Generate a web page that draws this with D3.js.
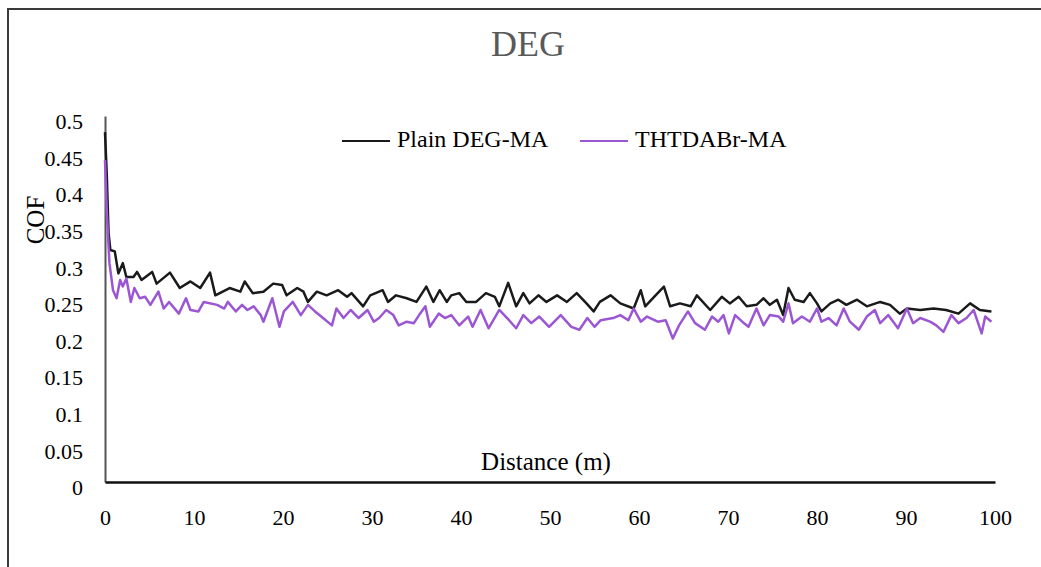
<!DOCTYPE html>
<html>
<head>
<meta charset="utf-8">
<script src="https://cdn.jsdelivr.net/npm/d3@7"></script>
<style>
  body { margin: 0; background: #fff; }
  svg text { font-family: "Liberation Serif", "Times New Roman", serif; fill: #000; }
</style>
</head>
<body>
<svg id="chart" width="1041" height="567"></svg>
<script>
// [distance (m), COF]
const plainDeg = [
  [0, 0.478], [0.2, 0.42], [0.4, 0.34], [0.6, 0.317], [1.1, 0.315], [1.5, 0.285], [2.0, 0.299],
  [2.4, 0.280], [3.2, 0.280], [3.6, 0.287], [4.1, 0.276], [5.3, 0.287], [5.8, 0.271], [7.3, 0.286],
  [8.4, 0.265], [9.6, 0.274], [10.7, 0.265], [11.8, 0.286], [12.4, 0.255], [14.0, 0.265], [15.2, 0.260],
  [15.7, 0.274], [16.6, 0.258], [17.8, 0.260], [18.9, 0.271], [19.9, 0.269], [20.4, 0.255], [21.6, 0.265],
  [22.3, 0.260], [22.8, 0.246], [23.8, 0.260], [24.9, 0.255], [26.2, 0.262], [27.2, 0.253], [27.7, 0.258],
  [29.0, 0.240], [29.8, 0.255], [31.2, 0.262], [31.8, 0.246], [32.7, 0.255], [33.9, 0.251], [35.0, 0.246],
  [36.1, 0.267], [36.9, 0.246], [37.6, 0.262], [38.4, 0.246], [38.9, 0.255], [39.8, 0.258], [40.6, 0.246],
  [41.7, 0.246], [42.8, 0.258], [43.8, 0.253], [44.3, 0.240], [45.3, 0.272], [46.2, 0.240], [47.0, 0.258],
  [47.7, 0.244], [48.7, 0.255], [49.6, 0.246], [50.8, 0.255], [51.9, 0.246], [53.0, 0.258], [54.1, 0.244],
  [54.9, 0.233], [55.6, 0.246], [56.8, 0.255], [57.9, 0.244], [59.4, 0.237], [60.2, 0.262], [60.7, 0.240],
  [61.7, 0.253], [62.8, 0.267], [63.5, 0.240], [64.6, 0.244], [65.8, 0.240], [66.5, 0.255], [68.0, 0.235],
  [69.3, 0.253], [70.2, 0.244], [71.2, 0.253], [72.1, 0.240], [73.2, 0.242], [74.0, 0.251], [74.7, 0.242],
  [75.5, 0.249], [76.2, 0.228], [76.8, 0.265], [77.5, 0.249], [78.5, 0.246], [79.2, 0.258], [80.0, 0.244],
  [80.5, 0.233], [81.5, 0.244], [82.4, 0.249], [83.3, 0.242], [84.5, 0.249], [85.6, 0.240], [87.1, 0.246],
  [88.2, 0.242], [89.3, 0.230], [90.1, 0.237], [91.6, 0.235], [93.1, 0.237], [94.5, 0.235], [95.9, 0.230],
  [97.2, 0.244], [98.3, 0.235], [99.6, 0.233]
];

const thtdabr = [
  [0, 0.44], [0.2, 0.37], [0.5, 0.299], [0.9, 0.262], [1.3, 0.251], [1.7, 0.276], [2.0, 0.267],
  [2.4, 0.278], [2.9, 0.246], [3.3, 0.265], [3.9, 0.251], [4.5, 0.253], [5.1, 0.242], [6.0, 0.260],
  [6.6, 0.237], [7.2, 0.246], [8.3, 0.230], [9.1, 0.251], [9.6, 0.235], [10.5, 0.233], [11.1, 0.246],
  [12.6, 0.242], [13.4, 0.237], [13.8, 0.246], [14.7, 0.233], [15.4, 0.242], [16.0, 0.235], [16.7, 0.240],
  [17.5, 0.228], [17.8, 0.219], [18.8, 0.251], [19.6, 0.212], [20.1, 0.233], [21.1, 0.246], [22.0, 0.228],
  [22.8, 0.242], [23.6, 0.233], [24.5, 0.224], [25.5, 0.214], [26.0, 0.237], [26.8, 0.224], [27.6, 0.235],
  [28.5, 0.224], [29.5, 0.235], [30.2, 0.219], [30.8, 0.224], [31.6, 0.235], [32.4, 0.228], [33.0, 0.214],
  [33.9, 0.219], [34.7, 0.217], [35.4, 0.230], [36.0, 0.240], [36.5, 0.212], [37.5, 0.230], [38.2, 0.224],
  [38.9, 0.228], [39.8, 0.214], [40.8, 0.226], [41.3, 0.212], [42.2, 0.235], [43.1, 0.210], [44.3, 0.235],
  [45.4, 0.221], [46.2, 0.210], [47.0, 0.228], [47.9, 0.217], [48.8, 0.226], [49.9, 0.212], [51.2, 0.228],
  [52.4, 0.212], [53.3, 0.208], [54.2, 0.224], [55.0, 0.212], [55.7, 0.221], [57.1, 0.224], [57.9, 0.228],
  [58.8, 0.221], [59.4, 0.237], [60.2, 0.219], [60.9, 0.226], [62.1, 0.219], [63.0, 0.221], [63.8, 0.196],
  [64.5, 0.214], [65.5, 0.233], [66.3, 0.217], [67.4, 0.208], [68.2, 0.226], [68.9, 0.219], [69.5, 0.228],
  [70.1, 0.203], [70.8, 0.228], [71.6, 0.219], [72.3, 0.212], [73.2, 0.237], [74.0, 0.214], [74.7, 0.228],
  [75.7, 0.226], [76.2, 0.219], [76.8, 0.244], [77.3, 0.217], [78.3, 0.226], [79.2, 0.219], [80.0, 0.237],
  [80.5, 0.219], [81.3, 0.224], [82.2, 0.214], [83.0, 0.237], [83.7, 0.219], [84.7, 0.208], [85.6, 0.226],
  [86.5, 0.235], [87.1, 0.217], [88.0, 0.228], [89.1, 0.210], [90.1, 0.237], [90.8, 0.217], [91.6, 0.224],
  [92.7, 0.219], [93.4, 0.214], [94.2, 0.205], [95.1, 0.228], [95.9, 0.217], [96.8, 0.224], [97.6, 0.235],
  [98.5, 0.203], [98.9, 0.226], [99.6, 0.219]
];

const seriesNames = ["Plain DEG-MA", "THTDABr-MA"];
const seriesColors = ["#1a1a1a", "#9b57d3"];
const xTicks = [0, 10, 20, 30, 40, 50, 60, 70, 80, 90, 100];
const yTicks = [0, 0.05, 0.1, 0.15, 0.2, 0.25, 0.3, 0.35, 0.4, 0.45, 0.5];

const padding = { left: 105, top: 116, right: 46, bottom: 85 };
const width = 1041, height = 567;
const innerWidth = width - padding.left - padding.right;
const innerHeight = height - padding.top - padding.bottom;
const font = "Liberation Serif, Times New Roman, serif";

const svg = d3.select("#chart");

// outer frame: only its top and left edges fall inside the picture
svg.append("path")
  .attr("d", "M8,567V9H1041")
  .attr("fill", "none")
  .attr("stroke", "#3a3a3a")
  .attr("stroke-width", 2);

svg.append("text")
  .attr("x", 528).attr("y", 56)
  .attr("text-anchor", "middle")
  .attr("font-size", 36)
  .style("fill", "#595959")
  .text("DEG");

const g = svg.append("g")
  .attr("transform", `translate(${padding.left},${padding.top})`);

const x = d3.scaleLinear().domain([0, 100]).range([0, innerWidth]);
const y = d3.scaleLinear().domain([0, 0.5]).range([innerHeight, 0]);

// axes
const yAxis = g.append("g")
  .call(d3.axisLeft(y).tickValues(yTicks).tickSize(0).tickPadding(22)
    .tickFormat(d => String(+d.toFixed(2))))
  .attr("font-family", font)
  .attr("font-size", 22);
yAxis.select(".domain").attr("stroke", "#555").attr("stroke-width", 2);
yAxis.selectAll(".tick text").attr("dy", "0.58em");

const xAxis = g.append("g")
  .attr("transform", `translate(0,${innerHeight})`)
  .call(d3.axisBottom(x).tickValues(xTicks).tickSize(0).tickPadding(27))
  .attr("font-family", font)
  .attr("font-size", 22);
xAxis.select(".domain").attr("stroke", "#111").attr("stroke-width", 2.5);

// lines
const line = d3.line().x(d => x(d[0])).y(d => y(d[1]));
[plainDeg, thtdabr].forEach((data, i) => {
  g.append("path")
    .datum(data)
    .attr("fill", "none")
    .attr("stroke", seriesColors[i])
    .attr("stroke-width", 2.5)
    .attr("stroke-linejoin", "round")
    .attr("d", line);
});

// axis titles
g.append("text")
  .attr("x", 441).attr("y", 354)
  .attr("text-anchor", "middle")
  .attr("font-size", 25)
  .text("Distance (m)");

svg.append("text")
  .attr("transform", "translate(44,220)rotate(-90)")
  .attr("text-anchor", "middle")
  .attr("font-size", 25)
  .text("COF");

// legend
const legendX = [342, 580];
const legend = svg.append("g");
seriesNames.forEach((name, i) => {
  legend.append("line")
    .attr("x1", legendX[i]).attr("x2", legendX[i] + 48)
    .attr("y1", 141).attr("y2", 141)
    .attr("stroke", seriesColors[i])
    .attr("stroke-width", 2);
  legend.append("text")
    .attr("x", legendX[i] + 55).attr("y", 147)
    .attr("font-size", 24)
    .text(name);
});
</script>
</body>
</html>
